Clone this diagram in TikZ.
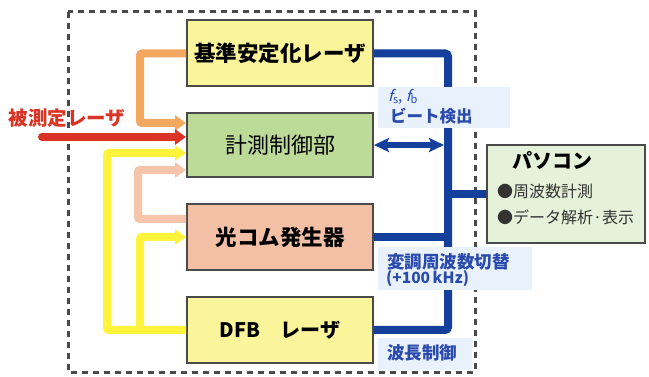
\documentclass[tikz,border=0pt]{standalone}
\usepackage{fontspec}
\setmainfont{Noto Sans CJK JP}[AutoFakeSlant=0.25]
\usetikzlibrary{arrows.meta}
\definecolor{framegray}{HTML}{4A4A4A}
\definecolor{boxline}{HTML}{4A4A4A}
\definecolor{kijunfill}{HTML}{FAF59A}
\definecolor{keisokufill}{HTML}{BCDA98}
\definecolor{combfill}{HTML}{F3C0A5}
\definecolor{pcfill}{HTML}{E5F1D9}
\definecolor{busblue}{HTML}{143F9A}
\definecolor{bluetext}{HTML}{2A4AAE}
\definecolor{lbg}{HTML}{E8F1FC}
\definecolor{orangec}{HTML}{F2A85E}
\definecolor{redc}{HTML}{DB3324}
\definecolor{yellowc}{HTML}{FFF33B}
\definecolor{pinkc}{HTML}{F6C4AB}
\newcommand{\fsz}[1]{\fontsize{#1}{#1}\selectfont}
\begin{document}
\begin{tikzpicture}[x=1pt,y=-1pt,
  blockbox/.style={draw=boxline, line width=2pt, minimum width=186pt, minimum height=66pt, inner sep=0pt, font=\bfseries\fsz{21.5}},
  feedarrow/.style={line width=8pt, rounded corners=2pt, -{Triangle[length=11pt,width=15pt]}},
  bus/.style={draw=busblue, line width=8pt, rounded corners=3pt},
  bluelabel/.style={text=bluetext, font=\bfseries\fsz{16.5}, inner sep=0pt, anchor=west},
  labelbg/.style={fill=lbg}
]
\useasboundingbox (0,0) rectangle (649,377);
\fill[white] (0,0) rectangle (649,377);
% dashed frame
\draw[framegray, line width=3pt, dash pattern=on 6pt off 5pt] (68,12) rectangle (475,372);

% boxes
\node[blockbox, fill=kijunfill] (kijun) at (280,53.5) {基準安定化レーザ};
\node[blockbox, fill=keisokufill, minimum height=64pt, font=\fsz{22}] (keisoku) at (280,145) {計測制御部};
\node[blockbox, fill=combfill] (comb) at (280,237) {光コム発生器};
\node[blockbox, fill=kijunfill, font=\bfseries\fsz{20}] (dfb) at (280,330) {DFB\quad レーザ};
\node[draw=boxline, line width=2pt, fill=pcfill, minimum width=158pt, minimum height=98pt, inner sep=0pt] (pc) at (566,194) {};

% bus coordinates
\coordinate (busT) at (448,53.5);
\coordinate (busB) at (448,330);
\coordinate (dblend) at (444,145);

% blue bus
\draw[bus] (kijun.east) -- (busT) -- (busB) -- (dfb.east);
\draw[bus] (comb.east) -- (comb.east -| busT);
\draw[bus] (busT |- pc.west) -- (pc.west);
\draw[busblue, line width=5.5pt, {Stealth[length=15pt,width=14pt,inset=3pt]}-{Stealth[length=15pt,width=14pt,inset=3pt]}] (keisoku.east) -- (dblend);

% feed arrows on left
\coordinate (oc) at (140,123);
\coordinate (redstart) at (42,137);
\coordinate (pk) at (138,219);
\coordinate (pc1) at (138,170);
\coordinate (y1) at (107,153);
\coordinate (y2) at (140,237);
\draw[feedarrow, orangec] (kijun.west) -| (oc) -- (oc -| keisoku.west);
\draw[feedarrow, pinkc] (pk -| comb.west) -- (pk) -- (pc1) -- (pc1 -| keisoku.west);
\draw[feedarrow, yellowc] (dfb.west) -| (y1) -- (y1 -| keisoku.west);
\draw[feedarrow, yellowc] (dfb.west -| y2) -- (y2) -- (comb.west);
\draw[line width=8pt, redc, line cap=round, -{Triangle[length=11pt,width=15pt]}] (redstart) -- (redstart -| keisoku.west);
\node[text=redc, font=\bfseries\fsz{19.5}, inner sep=0pt] (redlabel) at (67,118) {被測定レーザ};

% label backgrounds
\fill[labelbg] (378,87) rectangle (510,128);
\fill[labelbg] (378,247) rectangle (532,290);
\fill[labelbg] (378,338) rectangle (472,370);

% blue labels
\node[bluelabel, font=\fsz{15}] (fsfb) at (388,97) {{\itshape f}\raisebox{-1.5pt}{\fsz{11}s}, {\itshape f}\raisebox{-1.5pt}{\fsz{11}b}};
\node[bluelabel] (beat) at (390,116) {ビート検出};
\node[bluelabel, font=\bfseries\fsz{17.5}] (mod) at (387,262) {変調周波数切替};
\node[bluelabel, font=\bfseries\fsz{15.5}] (khz) at (386,279) {(+100\,kHz)};
\node[bluelabel, font=\bfseries\fsz{17.5}] (wl) at (387,353) {波長制御};

% PC texts
\node[font=\bfseries\fsz{20}, inner sep=0pt, anchor=west] (pctitle) at (512,160) {パソコン};
\node[font=\fsz{16}, inner sep=0pt, anchor=west, text=black!80] (pcitem1) at (497,191) {●周波数計測};
\node[font=\fsz{16}, inner sep=0pt, anchor=west, text=black!80] (pcitem2) at (497,217) {●データ解析·表示};
\end{tikzpicture}
\end{document}
